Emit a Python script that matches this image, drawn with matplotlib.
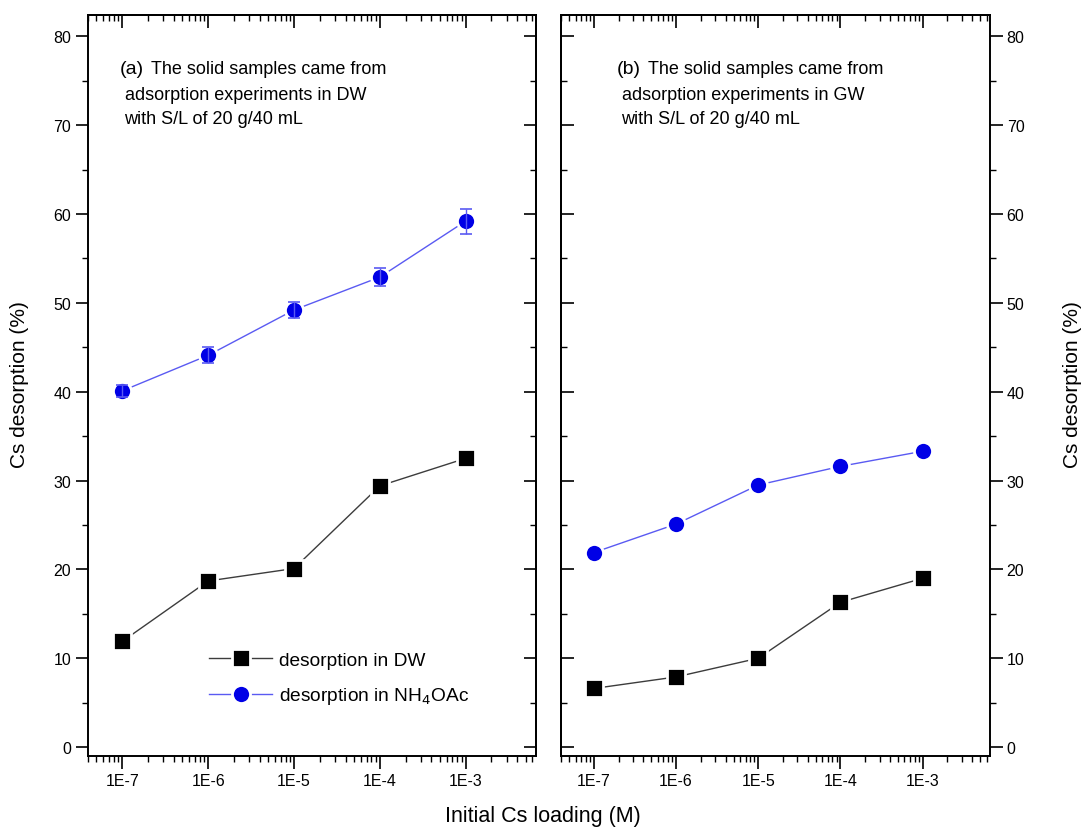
import matplotlib
matplotlib.use('Agg')
import matplotlib.pyplot as plt
from matplotlib.ticker import LogLocator, MultipleLocator, FuncFormatter, NullFormatter

plt.rcParams['font.family'] = ['Liberation Sans', 'DejaVu Sans']

# --- data ---
loading = [1e-7, 1e-6, 1e-5, 1e-4, 1e-3]
tick_labels = ['1E-7', '1E-6', '1E-5', '1E-4', '1E-3']

# (a) solids from adsorption in DW
a_dw = [11.9, 18.7, 20.1, 29.4, 32.5]
a_nh4 = [40.1, 44.1, 49.2, 52.9, 59.2]
a_nh4_err = [0.7, 0.9, 0.95, 1.0, 1.4]

# (b) solids from adsorption in GW
b_dw = [6.6, 7.9, 10.0, 16.3, 19.0]
b_nh4 = [21.9, 25.1, 29.5, 31.6, 33.3]

W, H = 1086, 828
fig = plt.figure(figsize=(W / 100, H / 100), dpi=100)

boxA = (88, 536, 16, 757)
boxB = (561, 990, 16, 757)

def px_box(box):
    x0, x1, y0, y1 = box
    return [x0 / W, 1 - y1 / H, (x1 - x0) / W, (y1 - y0) / H]

axA = fig.add_axes(px_box(boxA))
axB = fig.add_axes(px_box(boxB))

blue_line = '#5a5af2'
blue_mark = '#0000e6'

def fmt_log(v, pos):
    for t, lab in zip(loading, tick_labels):
        if abs(v - t) / t < 1e-6:
            return lab
    return ''

def style_axis(ax, label_side):
    ax.set_xscale('log')
    ax.set_xlim(10 ** -7.4, 10 ** -2.18)
    ax.set_ylim(-1, 82.4)
    ax.xaxis.set_major_locator(LogLocator(base=10))
    ax.xaxis.set_minor_locator(LogLocator(base=10, subs=range(2, 10)))
    ax.xaxis.set_major_formatter(FuncFormatter(fmt_log))
    ax.xaxis.set_minor_formatter(NullFormatter())
    ax.yaxis.set_major_locator(MultipleLocator(10))
    ax.yaxis.set_minor_locator(MultipleLocator(5))
    for s in ax.spines.values():
        s.set_linewidth(1.4)
    ax.tick_params(axis='both', which='major', length=9, width=1.2, labelsize=11.5, pad=3)
    ax.tick_params(axis='both', which='minor', length=4.5, width=1.0)
    ax.tick_params(axis='x', which='both', direction='out', top=False, bottom=True)

    # top axis: ticks pointing inward, no labels
    top = ax.secondary_xaxis('top')
    top.xaxis.set_major_locator(LogLocator(base=10))
    top.xaxis.set_minor_locator(LogLocator(base=10, subs=range(2, 10)))
    top.xaxis.set_major_formatter(NullFormatter())
    top.xaxis.set_minor_formatter(NullFormatter())
    top.tick_params(which='major', direction='in', length=9, width=1.2)
    top.tick_params(which='minor', direction='in', length=4.5, width=1.0)
    top.spines['top'].set_linewidth(1.4)

    other = 'right' if label_side == 'left' else 'left'
    if label_side == 'left':
        ax.tick_params(axis='y', which='both', direction='out', left=True, right=False,
                       labelleft=True, labelright=False)
    else:
        ax.tick_params(axis='y', which='both', direction='out', left=False, right=True,
                       labelleft=False, labelright=True)
    sec = ax.secondary_yaxis(other)
    sec.yaxis.set_major_locator(MultipleLocator(10))
    sec.yaxis.set_minor_locator(MultipleLocator(5))
    sec.yaxis.set_major_formatter(NullFormatter())
    sec.tick_params(which='major', direction='in', length=9, width=1.2)
    sec.tick_params(which='minor', direction='in', length=4.5, width=1.0)
    sec.spines[other].set_linewidth(1.4)

style_axis(axA, 'left')
style_axis(axB, 'right')

mk = dict(markeredgecolor='white', markeredgewidth=2)

# panel (a)
axA.errorbar(loading, a_nh4, yerr=a_nh4_err, fmt='none', ecolor=blue_line,
             elinewidth=1.0, capsize=4.5, capthick=1.2, zorder=4)
axA.plot(loading, a_dw, '-s', color='#3c3c3c', lw=1.0, markerfacecolor='black',
         markersize=12.5, label='desorption in DW', zorder=3, **mk)
axA.plot(loading, a_nh4, '-o', color=blue_line, lw=1.0, markerfacecolor=blue_mark,
         markersize=13, zorder=3, label='desorption in NH$_4$OAc', **mk)

# panel (b)
axB.plot(loading, b_dw, '-s', color='#3c3c3c', lw=1.0, markerfacecolor='black',
         markersize=12.5, zorder=3, **mk)
axB.plot(loading, b_nh4, '-o', color=blue_line, lw=1.0, markerfacecolor=blue_mark,
         markersize=13, zorder=3, **mk)

# legend in panel (a)
axA.legend(loc='center left', bbox_to_anchor=(0.27, 0.104),
           frameon=False, fontsize=13.8, handlelength=3.3, handletextpad=0.35,
           labelspacing=0.85, borderpad=0, borderaxespad=0)

# annotation texts, one text per line, placed by baseline
def ax_pt(box, x, y):
    x0, x1, y0, y1 = box
    return (x - x0) / (x1 - x0), (y1 - y) / (y1 - y0)

for ax, box, tag, water, xs in [(axA, boxA, '(a)', 'DW', 120), (axB, boxB, '(b)', 'GW', 617)]:
    lines = [(tag, xs, 74, 14),
             ('The solid samples came from', xs + 31, 74, 13),
             ('adsorption experiments in ' + water, xs + 5, 100, 13),
             ('with S/L of 20 g/40 mL', xs + 4, 124, 13)]
    for txt, x, y, fs in lines:
        p = ax_pt(box, x, y)
        ax.text(p[0], p[1], txt, transform=ax.transAxes, fontsize=fs,
                va='baseline', ha='left')

# axis titles
fig.text(0.5, (H - 817) / H, 'Initial Cs loading (M)', ha='center', va='center', fontsize=15.5)
fig.text(20 / W, 1 - 385 / H, 'Cs desorption (%)', rotation=90, ha='center', va='center', fontsize=15)
fig.text(1072 / W, 1 - 385 / H, 'Cs desorption (%)', rotation=90, ha='center', va='center', fontsize=15)

fig.savefig('out.png', dpi=100)
